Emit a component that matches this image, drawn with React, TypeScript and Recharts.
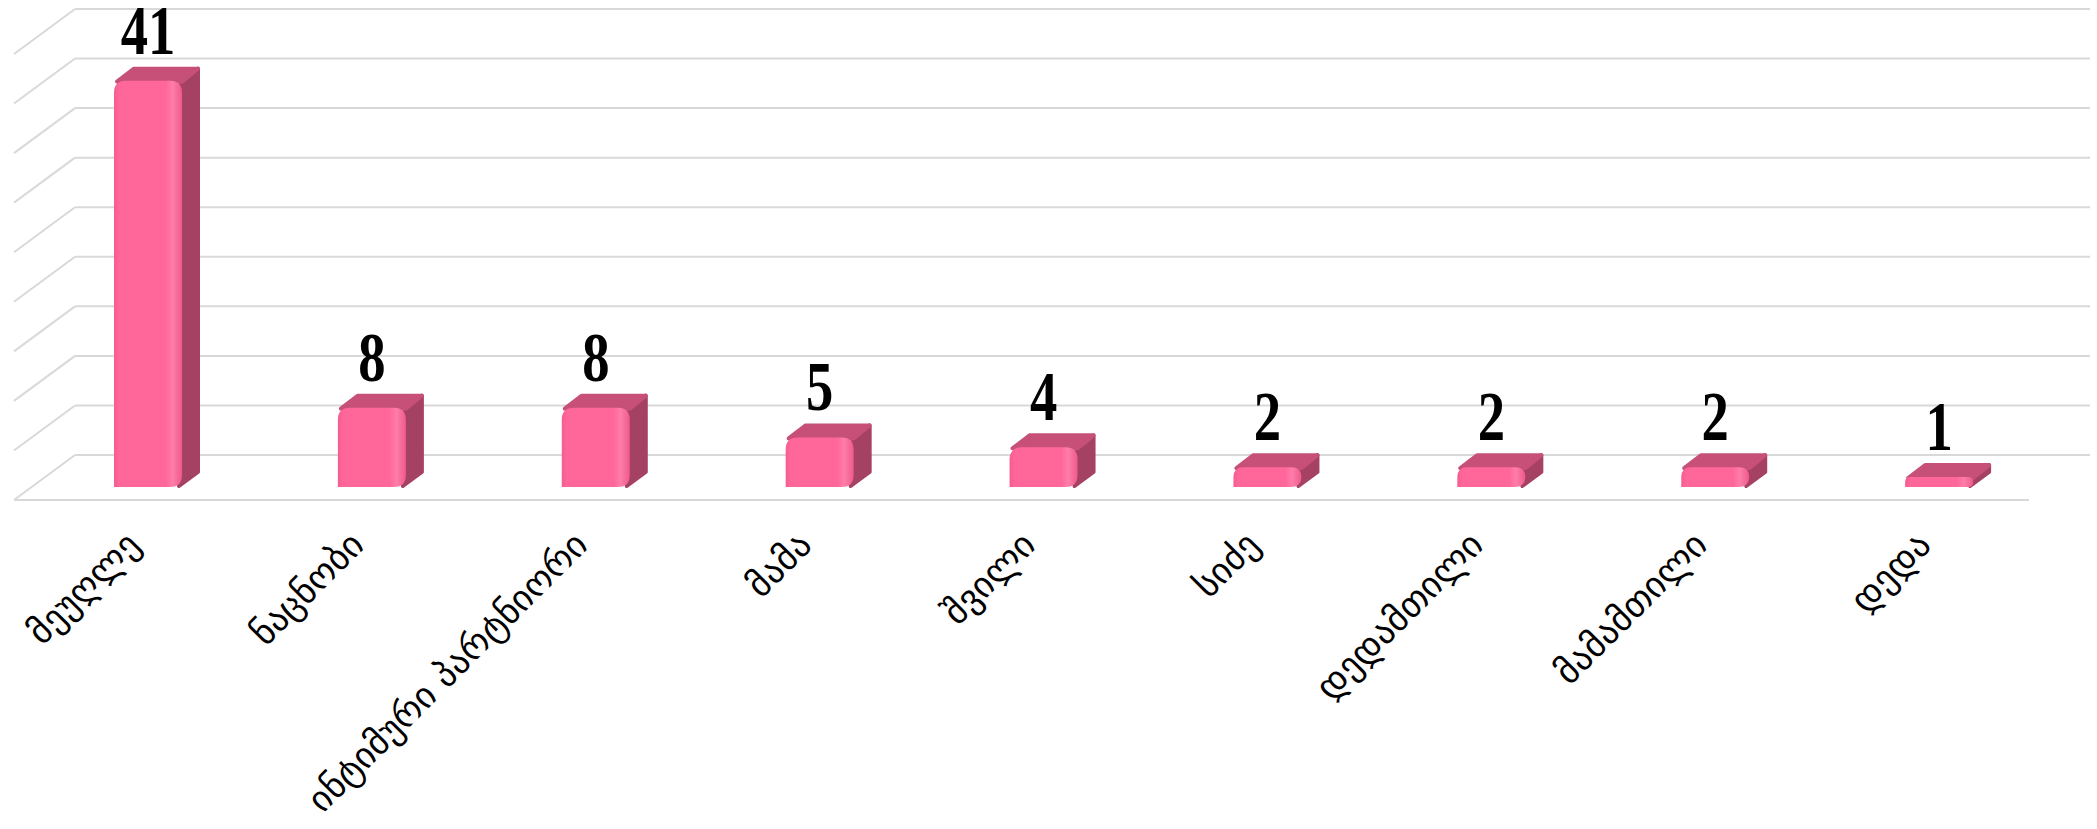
import { BarChart, Bar, XAxis, YAxis, CartesianGrid, LabelList } from 'recharts';

const categories = [
  'მეუღლე',
  'ნაცნობი',
  'ინტიმური პარტნიორი',
  'მამა',
  'შვილი',
  'სიძე',
  'დედამთილი',
  'მამამთილი',
  'დედა',
];
const counts = [41, 8, 8, 5, 4, 2, 2, 2, 1];
const valueTicks = [0, 5, 10, 15, 20, 25, 30, 35, 40, 45];

const data = categories.map((name, i) => ({ name, value: counts[i] }));

const W = 2097;
const H = 829;
const MARGIN = { top: 9, right: 7, bottom: 74, left: 75 };
const X_AXIS_H = 300;
const PLOT_BOTTOM = H - MARGIN.bottom - X_AXIS_H;

// fake 3d: back wall -> bar front, back wall -> floor front, bar depth
const FRONT_DX = -39;
const FRONT_DY = 32;
const WALL_DX = -61;
const WALL_DY = 45;
const BAR_DX = 17;
const BAR_DY = -13;

const GRID = '#d9d9d9';

const GridLine = (props: any) => {
  const { x1, y1, x2, y2, key } = props;
  const isFloor = Math.abs(y1 - PLOT_BOTTOM) < 1;
  return (
    <g key={key}>
      <line x1={x1} y1={y1} x2={x2} y2={y2} stroke={GRID} strokeWidth={2} />
      <line x1={x1} y1={y1} x2={x1 + WALL_DX} y2={y1 + WALL_DY} stroke={GRID} strokeWidth={2} />
      {isFloor && (
        <line x1={x1 + WALL_DX} y1={y1 + WALL_DY} x2={x2 + WALL_DX} y2={y2 + WALL_DY} stroke={GRID} strokeWidth={2} />
      )}
    </g>
  );
};

const Bar3D = (props: any) => {
  const { x, y, width, height, index } = props;
  if (!height || height <= 0) return null;
  const fx = x + FRONT_DX;
  const fy = y + FRONT_DY;
  const w = width;
  const h = height;
  const r = Math.min(12, h / 2);
  const gid = `front-${index}`;
  const front = `M${fx},${fy + h} L${fx},${fy + r} Q${fx},${fy} ${fx + r},${fy} L${fx + w - r},${fy} Q${fx + w},${fy} ${fx + w},${fy + r} L${fx + w},${fy + h - r} Q${fx + w},${fy + h} ${fx + w - r},${fy + h} Z`;
  const top = `${fx + 3},${fy + 1} ${fx + w},${fy + 1} ${fx + w + BAR_DX - 1},${fy + BAR_DY + 1} ${fx + BAR_DX + 3},${fy + BAR_DY + 1}`;
  const side = `${fx + w - 1},${fy + 1} ${fx + w + BAR_DX - 1},${fy + BAR_DY + 1} ${fx + w + BAR_DX - 1},${fy + h + BAR_DY - 2} ${fx + w - 3},${fy + h - 1}`;
  return (
    <g>
      <defs>
        <linearGradient id={gid} x1="0" y1="0" x2="1" y2="0">
          <stop offset="0%" stopColor="#f55d91" />
          <stop offset="8%" stopColor="#ff6699" />
          <stop offset="76%" stopColor="#ff6699" />
          <stop offset="86%" stopColor="#ff7dab" />
          <stop offset="100%" stopColor="#ee5a8b" />
        </linearGradient>
      </defs>
      <polygon points={side} fill="#a54163" stroke="#a54163" strokeWidth={4} strokeLinejoin="round" />
      <polygon points={top} fill="#c65078" stroke="#c65078" strokeWidth={4} strokeLinejoin="round" />
      <path d={front} fill={`url(#${gid})`} />
    </g>
  );
};

const ValueLabel = (props: any) => {
  const { x, y, width, value } = props;
  const cx = x + width / 2 + FRONT_DX;
  const by = y + FRONT_DY - 27;
  return (
    <text
      transform={`translate(${cx} ${by}) scale(0.78 1)`}
      x={0}
      y={0}
      textAnchor="middle"
      fontFamily="'Liberation Serif', serif"
      fontWeight="bold"
      fontSize={70}
      fill="#000"
    >
      {value}
    </text>
  );
};

const CategoryTick = (props: any) => {
  const { x, payload } = props;
  const ax = x + FRONT_DX - 6;
  const ay = 547;
  return (
    <text
      x={ax}
      y={ay}
      transform={`rotate(-45 ${ax} ${ay})`}
      textAnchor="end"
      fontFamily="'DejaVu Sans', sans-serif"
      fontSize={36}
      fill="#000"
    >
      {payload.value}
    </text>
  );
};

export default function App() {
  return (
    <div style={{ position: 'absolute', left: 0, top: 0, background: '#fff' }}>
      <BarChart width={W} height={H} data={data} margin={MARGIN} barSize={68}>
        <CartesianGrid vertical={false} horizontal={GridLine} />
        <XAxis
          dataKey="name"
          axisLine={false}
          tickLine={false}
          height={X_AXIS_H}
          interval={0}
          tick={CategoryTick}
        />
        <YAxis hide domain={[0, 45]} ticks={valueTicks} />
        <Bar dataKey="value" shape={Bar3D} isAnimationActive={false}>
          <LabelList dataKey="value" content={ValueLabel} />
        </Bar>
      </BarChart>
    </div>
  );
}
